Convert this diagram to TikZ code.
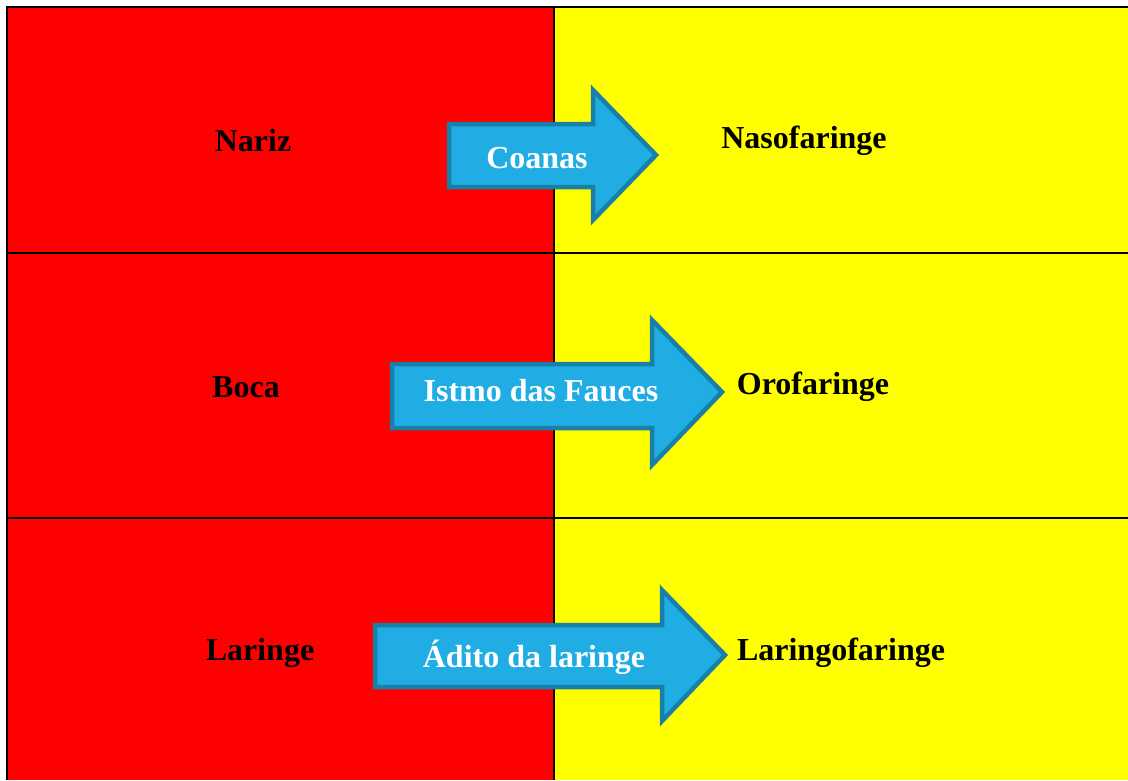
\documentclass[tikz,border=0pt]{standalone}
\usepackage{fontspec}
\setmainfont{Liberation Serif}
\definecolor{cellred}{RGB}{255,0,0}
\definecolor{cellyellow}{RGB}{255,255,0}
\definecolor{arrowfill}{RGB}{31,173,228}
\definecolor{arrowline}{RGB}{24,128,168}
\begin{document}
\begin{tikzpicture}[x=1pt,y=-1pt,
  lbl/.style={font=\fontsize{32}{36}\selectfont\bfseries, text=black, inner sep=0pt},
  albl/.style={font=\fontsize{32}{36}\selectfont\bfseries, text=white, inner sep=0pt},
  arrowshape/.style={fill=arrowfill, draw=arrowline, line width=4.5pt, line join=miter},
  grid/.style={draw=black, line width=1.6pt}]
\useasboundingbox (0,0) rectangle (1128,780);
% cells
\fill[cellred] (7,7) rectangle (554,780);
\fill[cellyellow] (554,7) rectangle (1128,780);
% grid
\draw[grid, line width=2.4pt] (7,780) -- (7,7) -- (1128,7);
\draw[grid] (554,7) -- (554,780);
\draw[grid] (7,253) -- (1128,253);
\draw[grid] (7,518) -- (1128,518);
% arrows
\draw[arrowshape] (449,124) -- (593,124) -- (593,90) -- (656,155) -- (593,220) -- (593,187) -- (449,187) -- cycle;
\draw[arrowshape] (392,364) -- (652,364) -- (652,320) -- (722,392) -- (652,465) -- (652,428) -- (392,428) -- cycle;
\draw[arrowshape] (375,625) -- (662,625) -- (662,590) -- (725,655) -- (662,721) -- (662,687) -- (375,687) -- cycle;
% labels
\node[lbl] (nariz) at (253,141) {Nariz};
\node[lbl] (naso) at (804,141) {Nasofaringe};
\node[albl] (coanas) at (537,158) {Coanas};
\node[lbl] (boca) at (246,387) {Boca};
\node[lbl] (oro) at (813,387) {Orofaringe};
\node[albl] (istmo) at (541,391) {Istmo das Fauces};
\node[lbl] (laringe) at (260,653) {Laringe};
\node[lbl] (laringo) at (841,653) {Laringofaringe};
\node[albl] (adito) at (534,657) {Ádito da laringe};
\end{tikzpicture}
\end{document}
